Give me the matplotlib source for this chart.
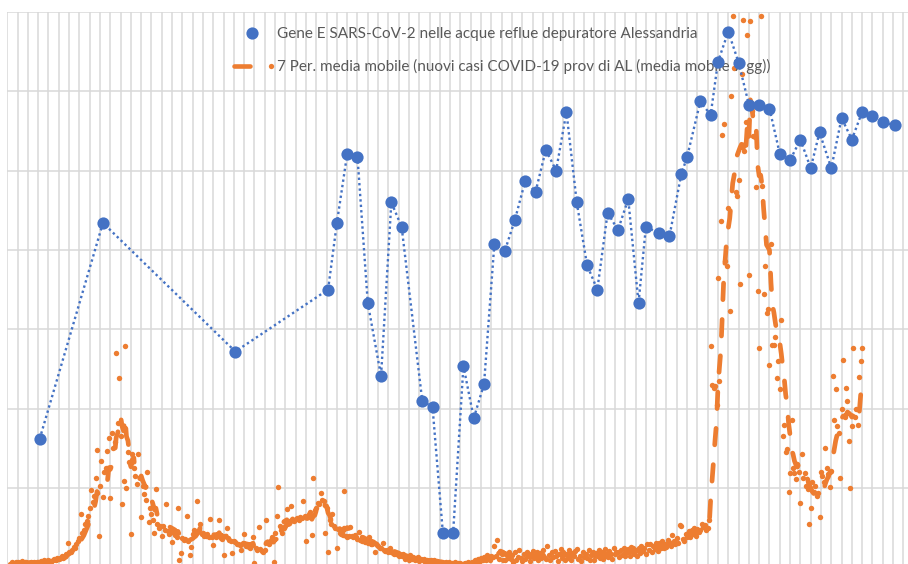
import numpy as np
import pandas as pd
import matplotlib
matplotlib.use("Agg")
import matplotlib.pyplot as plt
from matplotlib.lines import Line2D

# campioni acque reflue: giorno (dall'inizio del grafico) e livello gene E
giorni_campioni = [22, 65, 155, 218, 224, 231, 238, 245, 254, 261, 268,
                   282, 289, 296, 303, 310, 317, 324, 331, 338, 345, 352,
                   359, 366, 373, 380, 387, 394, 401, 408, 415, 422, 429,
                   434, 443, 450, 458, 462, 471, 478, 483, 490, 497, 504,
                   511, 518, 525, 532, 539, 546, 552, 560, 567, 574, 581,
                   588, 595, 603]
gene_e = [1.62, 4.34, 2.72, 3.50, 4.34, 5.21, 5.17, 3.33, 2.41, 4.60, 4.29,
          2.10, 2.02, 0.44, 0.44, 2.54, 1.88, 2.31, 4.07, 3.98, 4.38, 4.87,
          4.73, 5.26, 5.00, 5.74, 4.60, 3.81, 3.50, 4.47, 4.25, 4.64, 3.33,
          4.29, 4.21, 4.17, 4.95, 5.17, 5.87, 5.70, 6.37, 6.75, 6.36, 5.83,
          5.83, 5.78, 5.21, 5.13, 5.39, 5.03, 5.48, 5.03, 5.66, 5.39, 5.74,
          5.69, 5.61, 5.57]

# nuovi casi giornalieri prov. di AL, dal giorno 2 in poi (una riga = una settimana)
primo_giorno_casi = 2
casi = [
    10, 14, 12, 9, 15, 13, 11,
    12, 16, 10, 13, 14, 9, 12,
    15, 11, 13, 12, 14, 15, 13,
    17, 12, 18, 16, 14, 19, 17,
    15, 18, 22, 19, 25, 21, 24,
    28, 23, 30, 34, 62, 38, 40,
    45, 52, 48, 58, 66, 75, 135,
    88, 95, 110, 118, 130, 150, 195,
    165, 180, 225, 296, 79, 205, 268,
    178, 240, 250, 293, 326, 175, 340,
    300, 317, 541, 365, 478, 330, 160,
    218, 559, 200, 290, 265, 84, 286,
    250, 230, 210, 286, 225, 127, 205,
    185, 170, 241, 115, 150, 135, 120,
    87, 198, 110, 100, 105, 79, 105,
    95, 160, 92, 85, 90, 64, 88,
    82, 78, 150, 19, 37, 75, 70,
    72, 130, 68, 32, 52, 85, 95,
    90, 168, 95, 110, 85, 88, 80,
    80, 84, 78, 122, 76, 57, 82,
    78, 80, 119, 75, 72, 32, 80,
    100, 74, 70, 68, 37, 66, 64,
    60, 58, 56, 44, 62, 85, 55,
    54, 52, 50, 56, 77, 11, 50,
    45, 102, 46, 42, 40, 44, 120,
    62, 60, 70, 77, 14, 88, 130,
    203, 105, 95, 87, 100, 105, 147,
    115, 118, 155, 120, 118, 122, 125,
    120, 128, 124, 168, 130, 67, 128,
    135, 140, 82, 225, 145, 150, 162,
    160, 188, 170, 168, 87, 150, 40,
    120, 110, 135, 105, 100, 49, 98,
    88, 85, 82, 193, 80, 78, 80,
    102, 80, 78, 82, 76, 72, 90,
    70, 68, 72, 65, 66, 62, 77,
    60, 58, 62, 40, 56, 54, 50,
    48, 62, 45, 42, 44, 40, 49,
    38, 36, 35, 33, 34, 30, 31,
    28, 34, 22, 30, 25, 20, 31,
    22, 27, 18, 24, 26, 16, 21,
    18, 22, 14, 20, 17, 13, 19,
    15, 18, 11, 16, 13, 10, 14,
    12, 9, 14, 10, 13, 8, 11,
    10, 13, 8, 12, 9, 11, 7,
    9, 12, 8, 13, 11, 10, 15,
    14, 18, 12, 22, 16, 25, 19,
    27, 20, 32, 24, 18, 30, 26,
    54, 28, 70, 22, 42, 34, 20,
    18, 35, 24, 40, 22, 31, 15,
    38, 20, 27, 44, 25, 17, 33,
    22, 39, 28, 16, 34, 41, 24,
    30, 40, 19, 36, 23, 45, 27,
    21, 54, 32, 18, 38, 26, 42,
    29, 17, 35, 47, 23, 40, 20,
    33, 25, 44, 19, 37, 28, 41,
    47, 22, 30, 16, 39, 26, 35,
    24, 43, 20, 31, 38, 18, 36,
    29, 45, 25, 38, 22, 47, 30,
    27, 42, 35, 21, 48, 33, 39,
    40, 26, 44, 31, 50, 29, 38,
    46, 30, 52, 49, 35, 44, 28,
    50, 37, 55, 41, 48, 33, 58,
    45, 60, 38, 55, 47, 62, 42,
    62, 50, 66, 48, 58, 52, 70,
    63, 55, 82, 66, 58, 74, 62,
    107, 105, 72, 68, 85, 76, 92,
    78, 95, 84, 100, 80, 98, 90,
    95, 110, 102, 107, 95, 100, 120,
    557, 460, 452, 457, 410, 730, 470,
    872, 1090, 1117, 772, 760, 905, 645,
    1187, 1390, 1257, 947, 935, 975, 715,
    1243, 1380, 1049, 1121, 1341, 736, 1376,
    1150, 1086, 1084, 959, 697, 553, 1389,
    960, 690, 760, 640, 650, 509, 816,
    560, 560, 580, 477, 520, 450, 624,
    330, 359, 290, 299, 190, 238, 372,
    250, 238, 223, 260, 240, 162, 286,
    225, 238, 205, 198, 110, 150, 215,
    190, 205, 180, 188, 127, 240, 230,
    215, 301, 250, 235, 203, 243, 483,
    372, 450, 357, 340, 226, 400, 523,
    380, 453, 420, 319, 200, 357, 553,
    380, 400, 360, 480, 520, 553,
]

etichetta_gene = "Gene E SARS-CoV-2 nelle acque reflue depuratore Alessandria"
etichetta_media = "7 Per. media mobile (nuovi casi COVID-19 prov di AL (media mobile 7 gg))"

blu = "#4472C4"
arancio = "#ED7D31"
griglia = "#D9D9D9"

casi = np.array(casi)
giorni_casi = np.arange(primo_giorno_casi, primo_giorno_casi + len(casi))
media7 = pd.Series(casi).rolling(7).mean()


class TrattinoPunto:
    # legenda: trattino della media mobile + puntino della serie
    def legend_artist(self, legend, orig_handle, fontsize, handlebox):
        x0, y0 = handlebox.xdescent, handlebox.ydescent
        w, h = handlebox.width, handlebox.height
        yc = y0 + h / 2
        tr = handlebox.get_transform()
        dash = Line2D([x0 + 0.06 * w, x0 + 0.43 * w], [yc, yc], color=arancio,
                      lw=3.3, solid_capstyle="round", transform=tr)
        dot = Line2D([x0 + 0.95 * w], [yc], marker="o", ms=3.8, mew=0,
                     color=arancio, transform=tr)
        handlebox.add_artist(dash)
        handlebox.add_artist(dot)
        return dash


fig = plt.figure(figsize=(9.08, 5.64), dpi=100)
pos = [7.3 / 908, -3.5 / 564, 615 * 1.4714 / 908, 555.8 / 564]
ax_casi = fig.add_axes(pos)
ax_gene = fig.add_axes(pos, sharex=ax_casi)

# asse dei casi: griglia + punti arancioni
ax_casi.plot(giorni_casi, casi, "o", ms=3.9, mew=0, color=arancio, zorder=3)
ax_casi.plot(giorni_casi, media7, color=arancio, lw=3.4, dashes=(3.5, 4.2),
             dash_capstyle="round", zorder=4)
ax_casi.set_xlim(0, 615)
ax_casi.set_ylim(0, 1400)
ax_casi.set_xticks(np.arange(0, 616, 7))
ax_casi.set_yticks(np.arange(0, 1401, 200))
ax_casi.tick_params(length=0, labelbottom=False, labelleft=False)
ax_casi.grid(True, color=griglia, lw=1.1)
ax_casi.set_axisbelow(True)
for s in ax_casi.spines.values():
    s.set_visible(False)

# asse del gene E, sopra
ax_gene.plot(giorni_campioni, gene_e, color=blu, lw=1.7, linestyle=(0, (1, 1.3)),
             marker="o", ms=8.8, mew=0, zorder=5)
ax_gene.set_ylim(0, 7)
ax_gene.axis("off")

h_gene = Line2D([], [], ls="none", marker="o", ms=8.8, mew=0, color=blu)
h_media = Line2D([], [], color=arancio)
leg = ax_casi.legend([h_gene, h_media], [etichetta_gene, etichetta_media],
                     handler_map={h_media: TrattinoPunto()},
                     loc="upper left", bbox_to_anchor=(232 / 908, 1 - 27 / 564),
                     bbox_transform=fig.transFigure, frameon=False,
                     borderpad=0, borderaxespad=0, handlelength=2.68,
                     handletextpad=0.26, labelspacing=1.17,
                     prop={"family": "Lato", "size": 11}, labelcolor="#595959")
leg.set_zorder(6)

fig.savefig("out.png", dpi=100)
